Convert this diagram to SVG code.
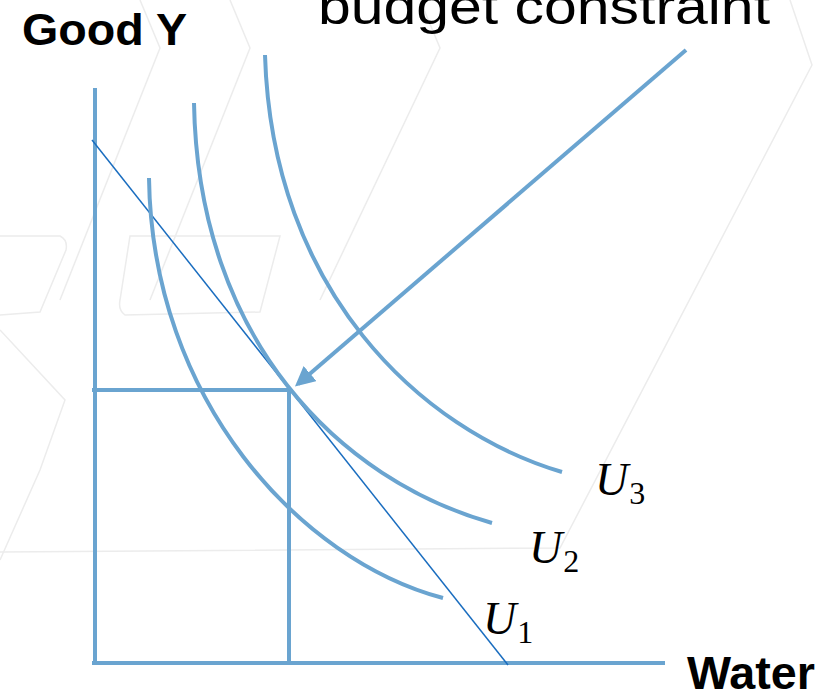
<svg xmlns="http://www.w3.org/2000/svg" width="825" height="695" viewBox="0 0 825 695">
<style>
.bg{fill:none;stroke:#ececec;stroke-width:1.5}
.ax{fill:none;stroke:#6aa4d0;stroke-width:4}
.cv{fill:none;stroke:#6aa4d0;stroke-width:4}
.bl{fill:none;stroke:#1a6dbf;stroke-width:1.5}
.lbl{font-family:"Liberation Sans",Arial,sans-serif;fill:#000}
.m{font-family:"Liberation Serif","DejaVu Serif",serif;font-style:italic;font-size:46px;fill:#000}
.s{font-family:"Liberation Serif","DejaVu Serif",serif;font-size:32px;fill:#000}
</style>
<defs>
<marker id="ah" viewBox="0 0 10 10" refX="8" refY="5" markerWidth="5" markerHeight="5" orient="auto" markerUnits="strokeWidth">
<path d="M0,0 L10,5 L0,10 z" fill="#6aa4d0"/>
</marker>
</defs>
<g id="background">
<path class="bg" d="M790,0 L812,65 L560,548 L0,552"/>
<path class="bg" d="M140,0 L160,48 L60,300"/>
<path class="bg" d="M230,0 L250,48 L150,300"/>
<path class="bg" d="M420,0 L440,48 L320,300"/>
<path class="bg" d="M0,236 L60,236 Q68,240 66,250 L40,312 L0,315"/>
<path class="bg" d="M130,236 L280,236 L260,312 L125,315 Q118,310 120,300 Z"/>
<path class="bg" d="M0,330 L65,400 L40,470 L0,560"/>
</g>
<g id="axes">
<line class="ax" x1="95" y1="88" x2="95" y2="665"/>
<line class="ax" x1="92" y1="663" x2="665" y2="663"/>
</g>
<g id="guides">
<line class="ax" x1="92" y1="390" x2="290" y2="390"/>
<line class="ax" x1="289" y1="390" x2="289" y2="665"/>
</g>
<g id="budget">
<line class="bl" x1="92" y1="140" x2="508" y2="665"/>
</g>
<g id="U1"><path class="cv" d="M149,178 C152,400 300,560 443,598"/></g>
<g id="U2"><path class="cv" d="M194,103 C198,340 340,480 492,523"/></g>
<g id="U3"><path class="cv" d="M265,55 C272,290 420,430 562,472"/></g>
<g id="connectors">
<line class="ax" x1="686" y1="50" x2="298" y2="384" marker-end="url(#ah)"/>
</g>
<g id="labels">
<text class="lbl" x="22" y="45" font-size="44" font-weight="bold" textLength="165" lengthAdjust="spacingAndGlyphs">Good Y</text>
<text class="lbl" x="318" y="24" font-size="50" textLength="452" lengthAdjust="spacingAndGlyphs">budget constraint</text>
<text class="lbl" x="687" y="689" font-size="46" font-weight="bold" textLength="128" lengthAdjust="spacingAndGlyphs">Water</text>
<text x="595" y="495"><tspan class="m">U</tspan><tspan class="s" dx="1" dy="9">3</tspan></text>
<text x="529" y="563"><tspan class="m">U</tspan><tspan class="s" dx="1" dy="9">2</tspan></text>
<text x="483" y="634"><tspan class="m">U</tspan><tspan class="s" dx="1" dy="9">1</tspan></text>
</g>
</svg>
